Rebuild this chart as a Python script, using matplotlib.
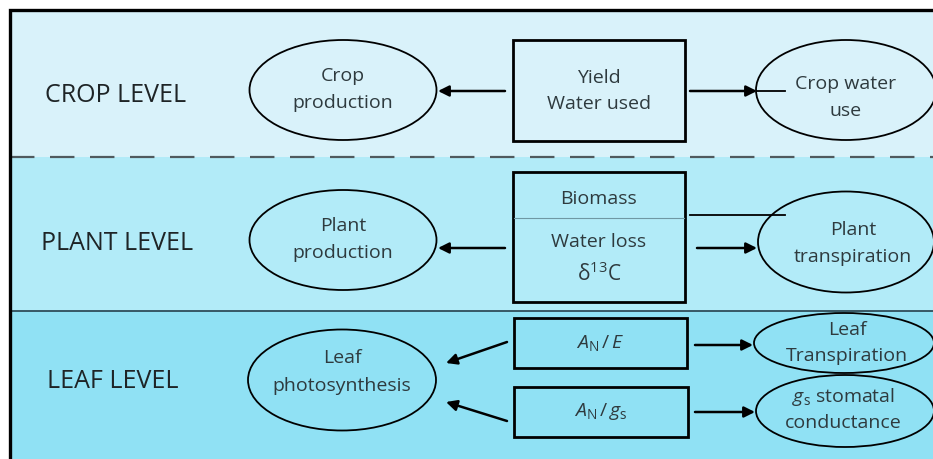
import matplotlib.pyplot as plt
from matplotlib.patches import Ellipse, Rectangle

plt.rcParams['font.family'] = ['Open Sans', 'DejaVu Sans']
plt.rcParams['mathtext.fontset'] = 'custom'
plt.rcParams['mathtext.it'] = 'Open Sans:italic'
plt.rcParams['mathtext.rm'] = 'Open Sans'

# texts of the diagram
levels = ["CROP LEVEL", "PLANT LEVEL", "LEAF LEVEL"]
left_nodes = [["Crop", "production"], ["Plant", "production"], ["Leaf", "photosynthesis"]]
mid_boxes = [["Yield", "Water used"], ["Biomass", "Water loss", r"$\mathrm{\delta}^{13}$C"],
             [r"$A_{\mathrm{N}}\,/\,E$"], [r"$A_{\mathrm{N}}\,/\,g_{\mathrm{s}}$"]]
right_nodes = [["Crop water", "use"], ["Plant", "transpiration"], ["Leaf", "Transpiration"],
               [r"$g_{\mathrm{s}}$ stomatal", "conductance"]]

# layout (pixels, y downward)
band_tops = [10, 157, 311]
band_bottoms = [157, 311, 459]
band_colors = ["#d9f2fa", "#b2ebf8", "#90e1f4"]
level_pos = [(116, 95), (117, 243), (113, 381)]
left_ell = [(343, 90, 187, 100), (343, 240, 187, 100), (342, 380, 188, 101)]
left_txt_y = [[76, 103], [226, 253], [358, 386]]
boxes = [(513, 40, 172, 101), (513, 172, 172, 130), (514, 318, 173, 50), (514, 387, 174, 50)]
box_txt_y = [[78, 104], [199, 242, 274], [343], [412]]
right_ell = [(846, 90, 180, 100), (846, 242, 176, 101), (844, 343, 180, 60), (845, 411, 178, 72)]
right_txt = [(846, [84, 111]), (853, [230, 257]), (847, [330, 356]), (843, [397, 423])]
arrows = [((505, 91), (438, 91)), ((690, 91), (757, 91)),
          ((505, 248), (438, 248)), ((697, 248), (757, 248)),
          ((507, 342), (446, 363)), ((507, 421), (446, 402)),
          ((695, 345), (753, 345)), ((695, 412), (755, 412))]
plain_lines = [((757, 91), (785, 91)), ((690, 215), (785, 215))]

txt_color = "#2e3a3e"

fig = plt.figure(figsize=(9.33, 4.59), dpi=100)
ax = fig.add_axes([0, 0, 1, 1])
ax.set_xlim(0, 933)
ax.set_ylim(459, 0)
ax.axis('off')

for top, bot, c in zip(band_tops, band_bottoms, band_colors):
    ax.add_patch(Rectangle((10, top), 923, bot - top, facecolor=c, edgecolor='none', zorder=0))

ax.plot([10, 933], [157, 157], color="#505a5e", lw=1.6, dashes=(11, 7), zorder=1)
ax.plot([10, 933], [311, 311], color="#2f4d5a", lw=1.3, zorder=1)
ax.plot([10, 10, 933], [459, 10, 10], color="black", lw=2.4, zorder=5, solid_joinstyle='miter')

for lab, (x, y) in zip(levels, level_pos):
    ax.text(x, y, lab, fontsize=18, ha='center', va='center', color="#1e2426")

for (cx, cy, w, h), lines, ys in zip(left_ell, left_nodes, left_txt_y):
    ax.add_patch(Ellipse((cx, cy), w, h, facecolor='none', edgecolor='black', lw=1.3, zorder=3))
    for s, y in zip(lines, ys):
        ax.text(cx, y, s, fontsize=14, ha='center', va='center', color=txt_color)

for (x, y, w, h), lines, ys in zip(boxes, mid_boxes, box_txt_y):
    ax.add_patch(Rectangle((x, y), w, h, facecolor='none', edgecolor='black', lw=2.0, zorder=3))
    for s, ty in zip(lines, ys):
        fs = 15 if 'delta' in s else 14
        ax.text(x + w / 2, ty, s, fontsize=fs, ha='center', va='center', color=txt_color)
ax.plot([514, 684], [218, 218], color="#6f98a4", lw=0.8, zorder=3)

for (cx, cy, w, h), lines, (tx, ys) in zip(right_ell, right_nodes, right_txt):
    ax.add_patch(Ellipse((cx, cy), w, h, facecolor='none', edgecolor='black', lw=1.3, zorder=3))
    for s, y in zip(lines, ys):
        ax.text(tx, y, s, fontsize=14, ha='center', va='center', color=txt_color)

for start, end in arrows:
    ax.annotate("", xy=end, xytext=start,
                arrowprops=dict(arrowstyle='-|>', color='black', lw=1.8, mutation_scale=16,
                                shrinkA=0, shrinkB=0), zorder=4)
for (x0, y0), (x1, y1) in plain_lines:
    ax.plot([x0, x1], [y0, y1], color='black', lw=1.3, zorder=4)

fig.savefig("out.png", dpi=100)
